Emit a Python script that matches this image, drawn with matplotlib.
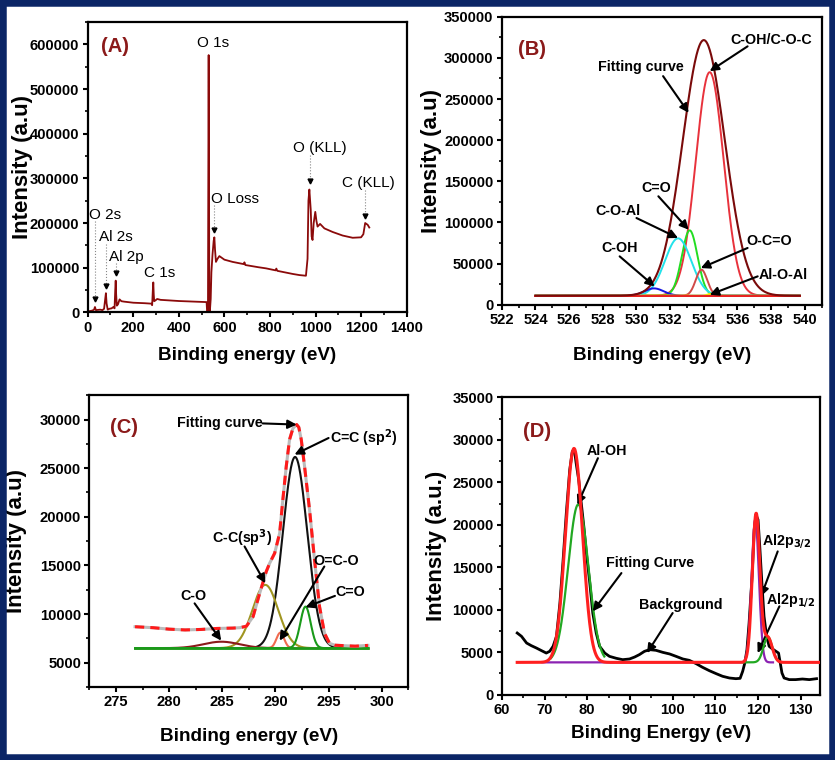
import matplotlib.pyplot as plt
import numpy as np
from matplotlib.patches import Rectangle
from matplotlib.ticker import MultipleLocator

plt.rcParams['font.family'] = ['Liberation Sans', 'DejaVu Sans']
plt.rcParams['font.weight'] = 'bold'
plt.rcParams['axes.labelweight'] = 'bold'

# ---------------- (A) survey spectrum ----------------
survey_E = [0, 10, 20, 28, 32, 36, 45, 55, 65, 72, 77, 80, 83, 88, 95, 105, 113, 118,
            121, 123, 125, 128, 133, 140, 148, 160, 200, 250, 280, 283, 286, 288, 290,
            292, 298, 305, 320, 400, 480, 522, 524, 526, 528, 530, 531, 532, 534, 536,
            540, 543, 548, 553, 556, 559, 563, 570, 578, 600, 636, 685, 688, 692, 750,
            783, 825, 828, 832, 900, 929, 958, 965, 969, 973, 979, 983, 987, 992, 999,
            1004, 1009, 1020, 1039, 1075, 1119, 1163, 1200, 1210, 1218, 1229, 1236]
survey_I = [1500, 3000, 4000, 6000, 12000, 5000, 5500, 6000, 5000, 8000, 30000, 43000,
            20000, 6000, 8000, 9000, 12000, 9000, 50000, 71000, 40000, 15000, 18000,
            29000, 25000, 24000, 21600, 20500, 19500, 16000, 50000, 67000, 40000, 25000,
            27000, 30000, 28000, 25400, 23800, 23000, 3000, 0, 5000, 400000, 576000,
            400000, 5000, 0, 30000, 90000, 130000, 160000, 168000, 140000, 113000,
            120000, 126000, 118000, 113000, 108000, 112000, 106000, 101000, 98500, 94000,
            98000, 93000, 86000, 83500, 82000, 120000, 250000, 275000, 230000, 170000,
            162000, 200000, 225000, 205000, 192000, 198000, 188000, 180000, 172000,
            167000, 168000, 175000, 200000, 196000, 190000]
a_labels = ['O 2s', 'Al 2s', 'Al 2p', 'C 1s', 'O 1s', 'O Loss', 'O (KLL)', 'C (KLL)']
a_label_E = [75, 124, 168, 317, 550, 645, 1018, 1233]
a_label_I = [218000, 169000, 125000, 89000, 604000, 254000, 369000, 290000]
a_lead_E = [32, 80, 123, 556, 976, 1218]
a_lead_top = [205000, 154000, 110000, 240000, 352000, 274000]
a_lead_bot = [24000, 54000, 83000, 179000, 287000, 210000]

# ---------------- (B) O 1s ----------------
b_range = [524.0, 539.7]
b_base = 11000
b_fit = [534.0, 310600, 2.95]          # centre, height, FWHM
b_names = ['C-OH/C-O-C', 'C=O', 'C-O-Al', 'C-OH', 'O-C=O', 'Al-O-Al']
b_center = [534.35, 533.16, 532.47, 531.04, 533.86, 534.45]
b_height = [271600, 79400, 69700, 8900, 31600, 2400]
b_fwhm = [1.95, 1.1, 1.85, 1.35, 0.8, 0.5]
b_colors = ['#E8323C', '#22DD22', '#22E2EA', '#1515E0', '#D04A48', '#F2E000']
b_text_xy = [(538.0, 322000), (531.2, 142000), (528.9, 113500), (529.0, 69000),
             (537.9, 77000), (538.7, 36500)]
b_tail = [(536.6, 314000), (531.3, 131800), (530.0, 105400), (529.0, 58800),
          (536.6, 69000), (537.2, 34500)]
b_tip = [(534.35, 283800), (533.1, 91200), (532.47, 81100), (531.08, 22300),
         (533.82, 44600), (534.35, 12200)]

# ---------------- (C) C 1s ----------------
c_range = [276.8, 298.7]
c_base = 6500
c_fit_E = [276.8, 278.5, 280.0, 281.5, 283.0, 284.5, 286.0, 286.64, 287.27, 287.9,
           288.52, 289.14, 289.46, 289.93, 290.4, 290.7, 291.02, 291.33, 291.65, 292.0,
           292.2, 292.43, 292.74, 293.21, 293.68, 294.15, 294.62, 295.09, 295.6, 296.5,
           297.5, 298.7]
c_fit_I = [8700, 8600, 8450, 8370, 8420, 8520, 8560, 8600, 8750, 9740, 12140, 14380,
           15230, 16260, 18320, 21760, 25190, 27940, 29100, 29480, 29200, 27940, 25190,
           20730, 15580, 10770, 8020, 6990, 6800, 6750, 6700, 6780]
c_names = ['C=C (sp$^2$)', 'C-C(sp$^3$)', 'C-O', 'O=C-O', 'C=O']
c_center = [291.85, 289.05, 284.92, 290.46, 292.83]
c_height = [19650, 6500, 660, 1590, 4270]
c_fwhm = [2.7, 2.85, 4.0, 0.85, 1.15]
c_colors = ['#111111', '#A09520', '#8B1A1A', '#F06A50', '#1A9A1A']
c_text_xy = [(295.1, 28100), (286.9, 17800), (282.3, 11870), (295.75, 15500), (297.06, 12300)]
c_tail = [(295.0, 28100), (287.1, 16950), (282.4, 11100), (294.6, 14890), (295.6, 11870)]
c_tip = [(291.8, 26400), (289.05, 13170), (284.9, 7270), (290.4, 7270), (292.83, 10700)]

# ---------------- (D) Al 2p ----------------
d_raw_E = [63.6, 64.6, 65.8, 66.9, 68.1, 69.3, 70.4, 71.2, 72.0, 72.8, 73.6, 74.3, 75.1,
           75.9, 76.5, 77.0, 77.4, 78.0, 78.6, 79.2, 79.8, 80.6, 81.3, 82.1, 82.9, 84.1,
           85.2, 86.8, 88.3, 89.9, 91.1, 92.2, 93.4, 94.6, 96.1, 97.7, 99.3, 100.8, 102.4,
           103.9, 105.5, 107.0, 108.6, 110.2, 111.7, 113.3, 114.8, 115.8, 116.4, 116.9,
           117.4, 117.9, 118.6, 119.1, 119.5, 120.0, 120.4, 120.9, 121.4, 122.0, 122.6,
           123.4, 124.2, 124.8, 125.2, 125.6, 126.1, 127.3, 128.8, 130.4, 132.0, 133.7]
d_raw_I = [7260, 6870, 6080, 5770, 5490, 5180, 4900, 5100, 5690, 6870, 10790, 15500,
           21380, 26480, 28640, 28830, 27270, 25300, 22560, 19810, 16670, 13140, 9610,
           7260, 5690, 4900, 4510, 4280, 4120, 4200, 4430, 4710, 5100, 5300, 5220, 4980,
           4790, 4510, 4200, 4040, 3650, 3220, 2820, 2470, 2160, 1960, 1880, 1920, 2750,
           3730, 5300, 8430, 13930, 19420, 21180, 20600, 17460, 13140, 9220, 6870, 5690,
           5370, 5100, 4900, 3730, 2550, 1960, 1770, 1770, 1840, 1770, 1880]
d_range = [63.6, 134.2]
d_base = 3800
d_fit_center = [76.9, 119.55, 122.3]
d_fit_height = [25200, 17500, 2900]
d_fit_fwhm = [4.7, 2.1, 2.4]
d_comp_center = [77.9, 119.35, 122.3]      # Al-OH, Al2p3/2, Al2p1/2
d_comp_height = [18600, 16800, 3000]
d_comp_fwhm = [5.6, 2.0, 2.4]
d_comp_span = [(71.5, 84.0), (69.5, 123.5), (116.5, 125.5)]
d_comp_colors = ['#22A822', '#8B22B2', '#22A822']
d_names = ['Al-OH', 'Fitting Curve', 'Background', 'Al2p$_{3/2}$', 'Al2p$_{1/2}$']
d_text_xy = [(84.5, 28750), (94.6, 15500), (101.8, 10590), (121.0, 18050), (121.8, 11180)]
d_tail = [(82.5, 27850), (88.0, 14320), (100.0, 9610), (124.6, 16870), (125.0, 10400)]
d_tip = [(77.7, 22360), (81.3, 9810), (94.0, 4900), (120.7, 11570), (119.9, 4900)]


def gauss(x, c, h, fwhm):
    s = fwhm / 2.3548
    return h * np.exp(-0.5 * ((x - c) / s) ** 2)


def style(ax, xmaj, xmin, ymaj, ymin):
    ax.xaxis.set_major_locator(MultipleLocator(xmaj))
    ax.xaxis.set_minor_locator(MultipleLocator(xmin))
    ax.yaxis.set_major_locator(MultipleLocator(ymaj))
    ax.yaxis.set_minor_locator(MultipleLocator(ymin))
    ax.tick_params(which='major', length=3.5, width=1.5, labelsize=10.6,
                   direction='out', pad=2.5)
    ax.tick_params(which='minor', length=2, width=1.2, direction='out')
    for sp in ax.spines.values():
        sp.set_linewidth(1.6)
    for lab in ax.get_xticklabels() + ax.get_yticklabels():
        lab.set_fontweight('bold')


def labels(ax, xl, yl, xly, ylx):
    ax.set_xlabel(xl, fontsize=13.6)
    ax.set_ylabel(yl, fontsize=16)
    ax.xaxis.set_label_coords(0.5, xly)
    ax.yaxis.set_label_coords(ylx, 0.5)


def arrow(ax, tail, tip):
    ax.annotate('', xy=tip, xytext=tail,
                arrowprops=dict(arrowstyle='-|>', color='black', lw=1.5,
                                mutation_scale=13, shrinkA=0, shrinkB=0))


fig = plt.figure(figsize=(8.35, 7.6), dpi=100)
fig.add_artist(Rectangle((0, 0), 1, 1, transform=fig.transFigure, fill=False,
                         edgecolor='#0B2566', linewidth=9))

panel_col = '#8B1A1A'
tsize = 10.3

# ---- A ----
axA = fig.add_axes([0.105, 0.589, 0.382, 0.382])
axA.plot(survey_E, survey_I, color='#8B0A0A', lw=1.3)
for E, top, bot in zip(a_lead_E, a_lead_top, a_lead_bot):
    axA.plot([E, E], [top, bot], ls=':', color='#888888', lw=0.8)
    axA.plot(E, bot + 6000, marker='v', color='black', ms=3.5)
for t, E, I in zip(a_labels, a_label_E, a_label_I):
    axA.text(E, I, t, ha='center', va='center', fontsize=11, fontweight='medium')
axA.text(120, 595000, '(A)', color=panel_col, fontsize=14.5, ha='center', va='center')
axA.set_xlim(0, 1400)
axA.set_ylim(0, 650000)
labels(axA, 'Binding energy (eV)', 'Intensity (a.u)', -0.121, -0.172)
style(axA, 200, 100, 100000, 50000)

# ---- B ----
axB = fig.add_axes([0.601, 0.599, 0.383, 0.379])
xb = np.linspace(b_range[0], b_range[1], 600)
for c, h, w, col in zip(b_center, b_height, b_fwhm, b_colors):
    axB.plot(xb, b_base + gauss(xb, c, h, w), color=col, lw=1.4)
axB.plot(b_range, [b_base, b_base], color='#E82020', lw=1.4)
axB.plot(xb, b_base + gauss(xb, *b_fit), color='#7A0A0A', lw=1.5)
axB.text(530.25, 288700, 'Fitting curve', fontsize=tsize, ha='center', va='center')
arrow(axB, (531.58, 277800), (533.1, 233200))
for t, xy, tl, tp in zip(b_names, b_text_xy, b_tail, b_tip):
    axB.text(xy[0], xy[1], t, fontsize=tsize, ha='center', va='center')
    arrow(axB, tl, tp)
axB.text(523.8, 310000, '(B)', color=panel_col, fontsize=14.5, ha='center', va='center')
axB.set_xlim(522, 541)
axB.set_ylim(0, 350000)
labels(axB, 'Binding energy (eV)', 'Intensity (a.u)', -0.146, -0.1875)
style(axB, 2, 1, 50000, 25000)

# ---- C ----
axC = fig.add_axes([0.107, 0.096, 0.382, 0.384])
xc = np.linspace(c_range[0], c_range[1], 600)
for c, h, w, col in zip(c_center, c_height, c_fwhm, c_colors):
    axC.plot(xc, c_base + gauss(xc, c, h, w), color=col, lw=1.5)
axC.plot(c_range, [c_base, c_base], color='#1A9A1A', lw=2)
axC.plot(c_fit_E, c_fit_I, color='#BBBBBB', lw=2.2)
axC.plot(c_fit_E, c_fit_I, color='#FF1A1A', lw=2.2, ls=(0, (3, 2)))
axC.text(288.8, 29600, 'Fitting curve', fontsize=tsize, ha='right', va='center')
arrow(axC, (288.8, 29600), (292.0, 29480))
for t, xy, tl, tp in zip(c_names, c_text_xy, c_tail, c_tip):
    ha = 'left' if t.startswith('C=C') else 'center'
    axC.text(xy[0], xy[1], t, fontsize=tsize, ha=ha, va='center')
    arrow(axC, tl, tp)
axC.text(275.75, 29130, '(C)', color=panel_col, fontsize=14.5, ha='center', va='center')
axC.set_xlim(272.5, 302.5)
axC.set_ylim(2500, 32500)
labels(axC, 'Binding energy (eV)', 'Intensity (a.u)', -0.140, -0.194)
style(axC, 5, 2.5, 5000, 2500)

# ---- D ----
axD = fig.add_axes([0.601, 0.086, 0.381, 0.391])
axD.plot(d_raw_E, d_raw_I, color='black', lw=2.0, zorder=1)
for i, (c, h, w, col) in enumerate(zip(d_comp_center, d_comp_height, d_comp_fwhm,
                                         d_comp_colors)):
    lo, hi = d_comp_span[i]
    xs = np.linspace(lo, hi, 400)
    axD.plot(xs, d_base + gauss(xs, c, h, w), color=col, lw=1.6, zorder=2 + i)
xd = np.linspace(d_range[0], d_range[1], 900)
yd = d_base + sum(gauss(xd, c, h, w) for c, h, w in
                  zip(d_fit_center, d_fit_height, d_fit_fwhm))
axD.plot(xd, yd, color='#FF2020', lw=2.2, zorder=6)
for t, xy, tl, tp in zip(d_names, d_text_xy, d_tail, d_tip):
    ha = 'left' if t.startswith('Al2p') else 'center'
    axD.text(xy[0], xy[1], t, fontsize=tsize, ha=ha, va='center', zorder=7)
    arrow(axD, tl, tp)
axD.text(68.3, 31000, '(D)', color=panel_col, fontsize=14.5, ha='center', va='center')
axD.set_xlim(60, 134.5)
axD.set_ylim(0, 35000)
labels(axD, 'Binding Energy (eV)', 'Intensity (a.u.)', -0.101, -0.173)
style(axD, 10, 5, 5000, 2500)

fig.savefig('out.png', dpi=100)
